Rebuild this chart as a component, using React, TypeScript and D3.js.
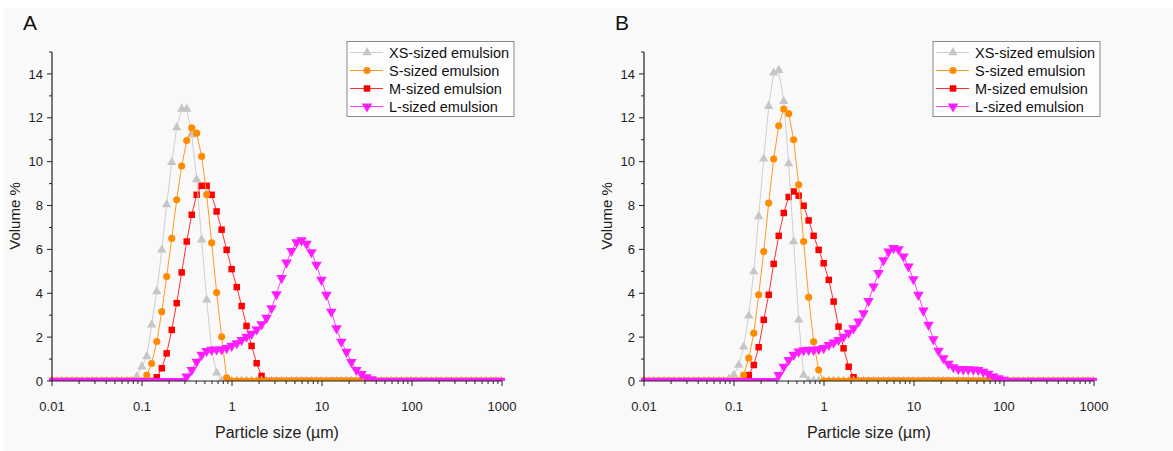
import React from 'react';
import * as d3 from 'd3';

// Particle size classes (µm)
const SIZES = [
  0.0100, 0.0114, 0.0129, 0.0147, 0.0167, 0.0189, 0.0215, 0.0244, 0.0278, 0.0315,
  0.0358, 0.0407, 0.0463, 0.0526, 0.0597, 0.0679, 0.0771, 0.0876, 0.0995, 0.113,
  0.128, 0.146, 0.166, 0.188, 0.214, 0.243, 0.276, 0.314, 0.357, 0.405,
  0.460, 0.523, 0.594, 0.675, 0.767, 0.872, 0.991, 1.13, 1.28, 1.45,
  1.65, 1.88, 2.13, 2.42, 2.75, 3.12, 3.55, 4.03, 4.58, 5.21,
  5.92, 6.72, 7.64, 8.68, 9.86, 11.2, 12.7, 14.5, 16.4, 18.7,
  21.2, 24.1, 27.4, 31.1, 35.3, 40.1, 45.6, 51.8, 58.9, 66.9,
  76.0, 86.4, 98.1, 111, 127, 144, 163, 186, 211, 240,
  272, 310, 352, 400, 454, 516, 586, 666, 756, 859,
  976,
];

// Panel A volume %
const A_XS = [
  0, 0, 0, 0, 0, 0, 0, 0, 0, 0,
  0, 0, 0, 0, 0, 0, 0, 0.2, 0.65, 1.12,
  2.56, 4.08, 5.98, 8.04, 9.97, 11.55, 12.4, 12.4, 11.23, 9.18,
  6.44, 3.7, 1.42, 0.37, 0, 0, 0, 0, 0, 0,
  0, 0, 0, 0, 0, 0, 0, 0, 0, 0,
  0, 0, 0, 0, 0, 0, 0, 0, 0, 0,
  0, 0, 0, 0, 0, 0, 0, 0, 0, 0,
  0, 0, 0, 0, 0, 0, 0, 0, 0, 0,
  0, 0, 0, 0, 0, 0, 0, 0, 0, 0,
  0,
];
const A_S = [
  0, 0, 0, 0, 0, 0, 0, 0, 0, 0,
  0, 0, 0, 0, 0, 0, 0, 0, 0, 0.27,
  0.8, 1.8, 3.16, 4.76, 6.5, 8.26, 9.8, 10.96, 11.54, 11.3,
  10.24, 8.5, 6.3, 4.03, 2.02, 0.15, 0, 0, 0, 0,
  0, 0, 0, 0, 0, 0, 0, 0, 0, 0,
  0, 0, 0, 0, 0, 0, 0, 0, 0, 0,
  0, 0, 0, 0, 0, 0, 0, 0, 0, 0,
  0, 0, 0, 0, 0, 0, 0, 0, 0, 0,
  0, 0, 0, 0, 0, 0, 0, 0, 0, 0,
  0,
];
const A_M = [
  0, 0, 0, 0, 0, 0, 0, 0, 0, 0,
  0, 0, 0, 0, 0, 0, 0, 0, 0, 0,
  0, 0.17, 0.58, 1.26, 2.33, 3.55, 4.95, 6.36, 7.58, 8.49,
  8.9, 8.9, 8.49, 7.73, 6.9, 5.98, 5.1, 4.28, 3.42, 2.51,
  1.6, 0.81, 0.23, 0, 0, 0, 0, 0, 0, 0,
  0, 0, 0, 0, 0, 0, 0, 0, 0, 0,
  0, 0, 0, 0, 0, 0, 0, 0, 0, 0,
  0, 0, 0, 0, 0, 0, 0, 0, 0, 0,
  0, 0, 0, 0, 0, 0, 0, 0, 0, 0,
  0,
];
const A_L = [
  0, 0, 0, 0, 0, 0, 0, 0, 0, 0,
  0, 0, 0, 0, 0, 0, 0, 0, 0, 0,
  0, 0, 0, 0, 0, 0, 0, 0.2, 0.5, 0.88,
  1.19, 1.37, 1.42, 1.44, 1.44, 1.5, 1.6, 1.72, 1.87, 2.02,
  2.15, 2.35, 2.58, 2.88, 3.32, 3.95, 4.69, 5.4, 5.93, 6.32,
  6.41, 6.26, 5.87, 5.3, 4.61, 3.93, 3.16, 2.4, 1.79, 1.33,
  0.87, 0.5, 0.32, 0.17, 0.08, 0, 0, 0, 0, 0,
  0, 0, 0, 0, 0, 0, 0, 0, 0, 0,
  0, 0, 0, 0, 0, 0, 0, 0, 0, 0,
  0,
];

// Panel B volume %
const B_XS = [
  0, 0, 0, 0, 0, 0, 0, 0, 0, 0,
  0, 0, 0, 0, 0, 0, 0, 0.1, 0.27, 0.73,
  1.56, 2.97, 4.99, 7.5, 10.13, 12.53, 14.05, 14.17, 12.75, 9.91,
  6.36, 2.79, 0.27, 0, 0, 0, 0, 0, 0, 0,
  0, 0, 0, 0, 0, 0, 0, 0, 0, 0,
  0, 0, 0, 0, 0, 0, 0, 0, 0, 0,
  0, 0, 0, 0, 0, 0, 0, 0, 0, 0,
  0, 0, 0, 0, 0, 0, 0, 0, 0, 0,
  0, 0, 0, 0, 0, 0, 0, 0, 0, 0,
  0,
];
const B_S = [
  0, 0, 0, 0, 0, 0, 0, 0, 0, 0,
  0, 0, 0, 0, 0, 0, 0, 0, 0, 0,
  0.27, 1.04, 2.18, 3.93, 5.9, 8.11, 10.12, 11.64, 12.4, 12.19,
  11.0, 8.95, 6.36, 3.82, 1.79, 0.5, 0, 0, 0, 0,
  0, 0, 0, 0, 0, 0, 0, 0, 0, 0,
  0, 0, 0, 0, 0, 0, 0, 0, 0, 0,
  0, 0, 0, 0, 0, 0, 0, 0, 0, 0,
  0, 0, 0, 0, 0, 0, 0, 0, 0, 0,
  0, 0, 0, 0, 0, 0, 0, 0, 0, 0,
  0,
];
const B_M = [
  0, 0, 0, 0, 0, 0, 0, 0, 0, 0,
  0, 0, 0, 0, 0, 0, 0, 0, 0, 0,
  0, 0.27, 0.73, 1.54, 2.79, 3.93, 5.34, 6.62, 7.66, 8.39,
  8.64, 8.45, 7.99, 7.32, 6.62, 5.98, 5.37, 4.61, 3.62, 2.48,
  1.49, 0.65, 0.17, 0, 0, 0, 0, 0, 0, 0,
  0, 0, 0, 0, 0, 0, 0, 0, 0, 0,
  0, 0, 0, 0, 0, 0, 0, 0, 0, 0,
  0, 0, 0, 0, 0, 0, 0, 0, 0, 0,
  0, 0, 0, 0, 0, 0, 0, 0, 0, 0,
  0,
];
const B_L = [
  0, 0, 0, 0, 0, 0, 0, 0, 0, 0,
  0, 0, 0, 0, 0, 0, 0, 0, 0, 0,
  0, 0, 0, 0, 0, 0, 0, 0.27, 0.65, 0.96,
  1.19, 1.34, 1.4, 1.42, 1.42, 1.45, 1.5, 1.64, 1.75, 1.87,
  2.02, 2.2, 2.4, 2.71, 3.09, 3.65, 4.31, 4.92, 5.5, 5.9,
  6.06, 6.01, 5.68, 5.22, 4.64, 3.93, 3.21, 2.56, 1.9, 1.38,
  1.04, 0.78, 0.63, 0.55, 0.53, 0.53, 0.52, 0.5, 0.42, 0.33,
  0.2, 0.12, 0.05, 0, 0, 0, 0, 0, 0, 0,
  0, 0, 0, 0, 0, 0, 0, 0, 0, 0,
  0,
];

const X_TICK_LABELS = ['0.01', '0.1', '1', '10', '100', '1000'];
const Y_TICK_LABELS = ['0', '2', '4', '6', '8', '10', '12', '14'];
const SERIES_LABELS = ['XS-sized emulsion', 'S-sized emulsion', 'M-sized emulsion', 'L-sized emulsion'];
const PANEL_LABELS = ['A', 'B'];

const FONT = '"Liberation Sans", Arial, Helvetica, sans-serif';

type Shape = 'triUp' | 'circle' | 'square' | 'triDown';
const STYLES: { color: string; line: string; shape: Shape; size: number }[] = [
  { color: '#c6c6c6', line: '#cfcfcf', shape: 'triUp', size: 38 },
  { color: '#ff8c00', line: '#ff9a20', shape: 'circle', size: 40 },
  { color: '#ff0000', line: '#ff3030', shape: 'square', size: 42 },
  { color: '#ff1cff', line: '#ff40ff', shape: 'triDown', size: 48 },
];

const symbolPath = (shape: Shape, size: number) => {
  const type =
    shape === 'circle' ? d3.symbolCircle : shape === 'square' ? d3.symbolSquare : d3.symbolTriangle;
  return d3.symbol().type(type).size(size)() as string;
};

const Marker = ({ x, y, s }: { x: number; y: number; s: (typeof STYLES)[number] }) => (
  <path
    d={symbolPath(s.shape, s.size)}
    transform={`translate(${x},${y})${s.shape === 'triDown' ? ' rotate(180)' : ''}`}
    fill={s.color}
  />
);

const Panel = ({
  idx,
  x0,
  legendX,
  series,
}: {
  idx: number;
  x0: number;
  legendX: number;
  series: number[][];
}) => {
  const top = 52;
  const bottom = 381;
  const width = 450;
  const x = d3.scaleLog().domain([0.01, 1000]).range([x0, x0 + width]);
  const y = d3.scaleLinear().domain([0, 15]).range([bottom, top]);
  const xTicks = x.ticks();
  const majors = [0.01, 0.1, 1, 10, 100, 1000];
  const yMinor = d3.range(0, 16, 1);
  const clipId = `clip-${idx}`;
  const order = [2, 0, 1, 3];
  const line = d3
    .line<number>()
    .x((_, i) => x(SIZES[i]))
    .y((v) => y(v));

  return (
    <g>
      <defs>
        <clipPath id={clipId}>
          <rect x={x0 - 3} y={top - 20} width={width + 6} height={bottom - top + 20} />
        </clipPath>
      </defs>
      <text x={x0 - 29} y={29.5} fontSize={21} fontFamily={FONT} fill="#111">
        {PANEL_LABELS[idx]}
      </text>
      <g clipPath={`url(#${clipId})`}>
        {order.map((si) => (
          <g key={si}>
            <path d={line(series[si]) as string} fill="none" stroke={STYLES[si].line} strokeWidth={1} />
            {series[si].map((v, i) => (
              <Marker key={i} x={x(SIZES[i])} y={y(v)} s={STYLES[si]} />
            ))}
          </g>
        ))}
      </g>
      <line x1={x0} x2={x0} y1={top} y2={bottom} stroke="#222" strokeWidth={1.2} />
      {yMinor.map((v) => (
        <line
          key={v}
          x1={x0}
          x2={x0 - (v % 2 === 0 ? 5 : 3)}
          y1={y(v)}
          y2={y(v)}
          stroke="#222"
          strokeWidth={1}
        />
      ))}
      {Y_TICK_LABELS.map((t) => (
        <text
          key={t}
          x={x0 - 9}
          y={y(+t)}
          dy="0.36em"
          textAnchor="end"
          fontSize={13}
          fontFamily={FONT}
          fill="#222"
        >
          {t}
        </text>
      ))}
      <line x1={x0} x2={x0 + width} y1={bottom} y2={bottom} stroke="#222" strokeWidth={1.2} />
      {xTicks.map((v, i) => {
        const isMajor = majors.some((m) => Math.abs(m - v) / m < 1e-6);
        return (
          <line
            key={i}
            x1={x(v)}
            x2={x(v)}
            y1={bottom}
            y2={bottom + (isMajor ? 5 : 3)}
            stroke="#222"
            strokeWidth={1}
          />
        );
      })}
      {X_TICK_LABELS.map((t) => (
        <text
          key={t}
          x={x(+t)}
          y={410.5}
          textAnchor="middle"
          fontSize={13}
          fontFamily={FONT}
          fill="#222"
        >
          {t}
        </text>
      ))}
      <text x={x0 + width / 2} y={438} textAnchor="middle" fontSize={16} fontFamily={FONT} fill="#222">
        Particle size (µm)
      </text>
      <text
        transform={`translate(${x0 - 32},${216}) rotate(-90)`}
        textAnchor="middle"
        fontSize={15}
        fontFamily={FONT}
        fill="#222"
      >
        Volume %
      </text>
      <rect x={legendX} y={41.5} width={167} height={75} fill="#fdfdfd" stroke="#8a8a8a" strokeWidth={1} />
      {SERIES_LABELS.map((lab, i) => {
        const ry = 52.5 + i * 18;
        return (
          <g key={lab}>
            <line x1={legendX + 3} x2={legendX + 36} y1={ry} y2={ry} stroke={STYLES[i].line} strokeWidth={1} />
            <Marker x={legendX + 20} y={ry} s={STYLES[i]} />
            <text x={legendX + 42} y={ry} dy="0.36em" fontSize={14.5} fontFamily={FONT} fill="#111">
              {lab}
            </text>
          </g>
        );
      })}
    </g>
  );
};

export default function App() {
  return (
    <svg
      width={1173}
      height={451}
      style={{ position: 'absolute', left: 0, top: 0, display: 'block' }}
      xmlns="http://www.w3.org/2000/svg"
    >
      <rect x={0} y={0} width={1173} height={451} fill="#ffffff" />
      <rect x={4} y={8} width={1169} height={443} fill="#f9f9f9" />
      <Panel idx={0} x0={52} legendX={347} series={[A_XS, A_S, A_M, A_L]} />
      <Panel idx={1} x0={644} legendX={933} series={[B_XS, B_S, B_M, B_L]} />
    </svg>
  );
}
